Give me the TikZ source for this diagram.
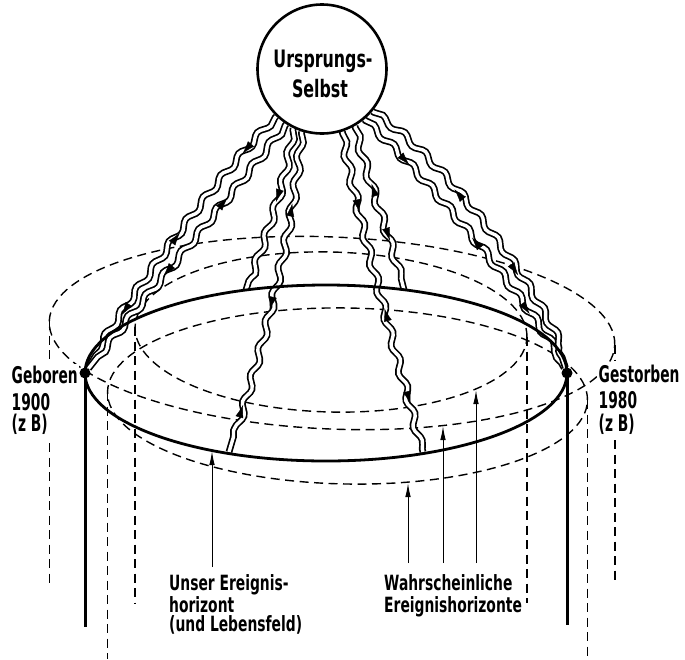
\documentclass[tikz,border=0pt]{standalone}
\usepackage{fontspec}
\newfontfamily\handfont[FakeStretch=0.66]{DejaVu Sans}
\newfontfamily\sidefont[FakeStretch=0.6]{DejaVu Sans}
\usetikzlibrary{decorations.pathmorphing,decorations.markings,arrows.meta,backgrounds}
\begin{document}
\begin{tikzpicture}[x=1pt,y=-1pt,
  dashedl/.style={line width=1.4pt, dash pattern=on 9pt off 5.5pt},
  solidl/.style={line width=2.8pt},
  ribbon/.style={decorate, decoration={snake, amplitude=2.8pt, segment length=28pt, pre length=2pt, post length=2pt}, line width=1.7pt, double=white, double distance=3.4pt},
  fw/.style={postaction={decorate, decoration={markings, mark=at position #1 with {\arrow{Latex[length=13pt,width=8pt]}}}}},
  bw/.style={postaction={decorate, decoration={markings, mark=at position #1 with {\arrowreversed{Latex[length=13pt,width=8pt]}}}}},
  ctext/.style={font=\handfont\bfseries\fontsize{24}{28}\selectfont, inner sep=0pt, anchor=base},
  stext/.style={font=\sidefont\bfseries\fontsize{23}{26}\selectfont, inner sep=1.5pt, anchor=base west, fill=white},
  btext/.style={font=\handfont\bfseries\fontsize{21}{22}\selectfont, inner sep=1pt, anchor=base west},
  leader/.style={line width=1pt, -{Latex[length=14pt,width=5.5pt]}},
  dot/.style={circle, fill=black, inner sep=0pt, minimum size=11pt},
]
\useasboundingbox (0,0) rectangle (685,659);

% origin circle
\node[draw, circle, line width=2.6pt, minimum size=129pt, inner sep=0pt, fill=white] (ur) at (322,69) {};
\node[ctext] (ur1) at (323,67) {Ursprungs-};
\node[ctext] (ur2) at (320,97) {Selbst};

% birth / death points
\node[dot] (geb) at (85,373) {};
\node[dot] (gest) at (567,373) {};

% ribbon end points on our horizon
\coordinate (m1e) at (246,290);
\coordinate (m2e) at (229,452);
\coordinate (m3e) at (423,452);
\coordinate (m4e) at (404,290);

\begin{scope}[on background layer]
  % probable horizons (dashed)
  \draw[dashedl, rotate around={-2.43:(332,333)}] (332,333) ellipse [x radius=283pt, y radius=96pt];
  \draw[dashedl, rotate around={-1.46:(331,332)}] (331,332) ellipse [x radius=196pt, y radius=80pt];
  \draw[dashedl, rotate around={-1:(347.5,396)}] (347.5,396) ellipse [x radius=240pt, y radius=88pt];
  % their vertical life lines
  \draw[dashedl] (49.2,321) -- (49.2,362);
  \draw[dashedl] (49.2,443) -- (49.2,583);
  \draw[dashedl] (614.8,345) -- (614.8,360);
  \draw[dashedl] (614.8,440) -- (614.8,583);
  \draw[dashedl] (135.1,327) -- (135.1,603);
  \draw[dashedl] (526.9,337) -- (526.9,603);
  \draw[dashedl] (107.5,392) -- (107.5,659);
  \draw[dashedl] (587.5,400) -- (587.5,659);

  % wavy ribbons
  \draw[ribbon] (ur.226) .. controls (215,180) and (135,290) .. (geb);
  \draw[ribbon] (ur.237) .. controls (250,172) and (128,318) .. (geb);
  \draw[ribbon] (ur.244) .. controls (285,190) and (258,250) .. (m1e);
  \draw[ribbon] (ur.252) .. controls (290,260) and (250,380) .. (m2e);
  \draw[ribbon] (ur.288) .. controls (355,210) and (405,380) .. (m3e);
  \draw[ribbon] (ur.300) .. controls (368,180) and (392,240) .. (m4e);
  \draw[ribbon] (ur.310) .. controls (420,170) and (520,290) .. (gest);
  \draw[ribbon] (ur.320) .. controls (445,160) and (545,300) .. (gest);

  % arrowheads on the ribbons
  \path[fw=0.16, bw=0.48, fw=0.8] (ur.226) .. controls (215,180) and (135,290) .. (geb);
  \path[bw=0.3, fw=0.62] (ur.237) .. controls (250,172) and (128,318) .. (geb);
  \path[fw=0.45] (ur.244) .. controls (285,190) and (258,250) .. (m1e);
  \path[bw=0.22, fw=0.55, bw=0.85] (ur.252) .. controls (290,260) and (250,380) .. (m2e);
  \path[fw=0.25, bw=0.55, fw=0.85] (ur.288) .. controls (355,210) and (405,380) .. (m3e);
  \path[bw=0.35, fw=0.7] (ur.300) .. controls (368,180) and (392,240) .. (m4e);
  \path[fw=0.2, bw=0.5, fw=0.8] (ur.310) .. controls (420,170) and (520,290) .. (gest);
  \path[bw=0.35, fw=0.68] (ur.320) .. controls (445,160) and (545,300) .. (gest);

  % our event horizon (solid)
  \draw[solidl] (326,373) ellipse [x radius=241pt, y radius=88pt];
  \draw[line width=3pt] (geb.center) -- (85,627);
  \draw[line width=3pt] (gest.center) -- (567,625);
\end{scope}

% side labels
\node[stext] (g1) at (10,383) {Geboren};
\node[stext] (g2) at (10,410) {1900};
\node[stext] (g3) at (10,431) {(z B)};
\node[stext] (s1) at (597,382) {Gestorben};
\node[stext] (s2) at (597,408) {1980};
\node[stext] (s3) at (597,431) {(z B)};

% bottom labels
\node[btext] (u1) at (168,590) {Unser Ereignis-};
\node[btext] (u2) at (168,612) {horizont};
\node[btext] (u3) at (168,631) {(und Lebensfeld)};
\node[btext] (w1) at (383,590) {Wahrscheinliche};
\node[btext] (w2) at (383,612) {Ereignishorizonte};

% leaders
\coordinate (ua) at (212,567); \coordinate (ub) at (212,451);
\draw[leader] (ua) -- (ub);
\coordinate (wa1) at (408,563); \coordinate (wb1) at (408,483);
\coordinate (wa2) at (443,563); \coordinate (wb2) at (443,426);
\coordinate (wa3) at (476,563); \coordinate (wb3) at (476,390);
\draw[leader] (wa1) -- (wb1);
\draw[leader] (wa2) -- (wb2);
\draw[leader] (wa3) -- (wb3);
\end{tikzpicture}
\end{document}
